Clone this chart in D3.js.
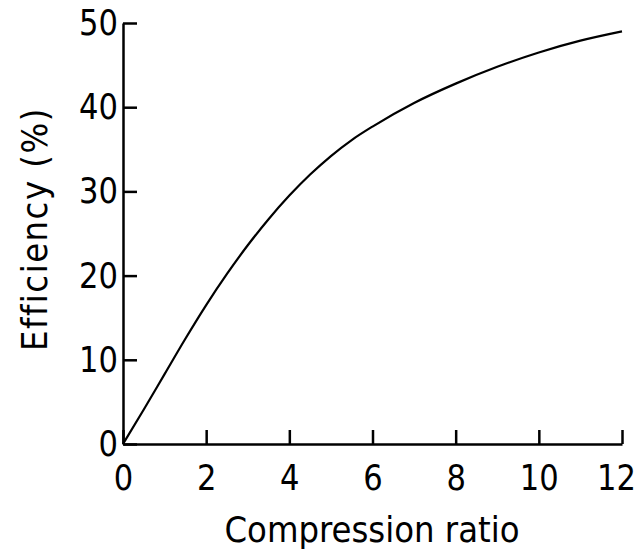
<!DOCTYPE html>
<html>
<head>
<meta charset="utf-8">
<script src="https://cdn.jsdelivr.net/npm/d3@7"></script>
<style>
  html, body { margin: 0; padding: 0; background: #fff; }
  svg text { font-family: "DejaVu Sans", sans-serif; fill: #000; }
  svg text.title { font-family: "DejaVu Sans Condensed", "DejaVu Sans", sans-serif; font-stretch: condensed; }
</style>
</head>
<body>
<svg id="chart" width="636" height="552"></svg>
<script>
// Data
const ratio      = [0, 0.5, 1, 1.5, 2, 2.5, 3, 3.5, 4, 4.5, 5, 5.5, 6, 7, 8, 9, 10, 11, 12];
const efficiency = [0, 4.1, 8.3, 12.5, 16.5, 20.2, 23.6, 26.7, 29.5, 32.0, 34.2, 36.1, 37.7, 40.5, 42.8, 44.8, 46.5, 47.9, 49.0];
const xTicks = [0, 2, 4, 6, 8, 10, 12];
const yTicks = [0, 10, 20, 30, 40, 50];
const xTitle = "Compression ratio";
const yTitle = "Efficiency (%)";

const svg = d3.select("#chart");
const x = d3.scaleLinear().domain([0, 12]).range([123, 622]);
const y = d3.scaleLinear().domain([0, 50]).range([444, 23]);

const xAxis = svg.append("g")
  .attr("transform", `translate(0,${y(0)})`)
  .call(d3.axisBottom(x).tickValues(xTicks).tickFormat(d3.format("d"))
        .tickSizeInner(-14).tickSizeOuter(0).tickPadding(20));
const yAxis = svg.append("g")
  .attr("transform", `translate(${x(0)},0)`)
  .call(d3.axisLeft(y).tickValues(yTicks).tickFormat(d3.format("d"))
        .tickSizeInner(-14).tickSizeOuter(0).tickPadding(6));

[xAxis, yAxis].forEach(g => {
  g.attr("font-size", null).attr("font-family", null);
  g.selectAll("path.domain").attr("stroke", "#000").attr("stroke-width", 2.5);
  g.selectAll(".tick line").attr("stroke", "#000").attr("stroke-width", 2.5);
  g.selectAll(".tick text")
    .style("font-size", "36px")
    .attr("transform", "scale(0.85,1)");
});
// keep the last x label inside the picture, as in the reference
xAxis.selectAll(".tick text").filter(d => d === 12).attr("dx", -7);

const line = d3.line()
  .x((d, i) => x(ratio[i]))
  .y(d => y(d))
  .curve(d3.curveMonotoneX);

svg.append("path")
  .datum(efficiency)
  .attr("d", line)
  .attr("fill", "none")
  .attr("stroke", "#000")
  .attr("stroke-width", 2.2);

svg.append("text")
  .attr("class", "title")
  .attr("x", 372)
  .attr("y", 542)
  .attr("text-anchor", "middle")
  .style("font-size", "36px")
  .text(xTitle);

svg.append("text")
  .attr("class", "title")
  .attr("transform", "translate(47,229) rotate(-90)")
  .attr("text-anchor", "middle")
  .style("font-size", "36px")
  .style("letter-spacing", "1.5px")
  .text(yTitle);
</script>
</body>
</html>
